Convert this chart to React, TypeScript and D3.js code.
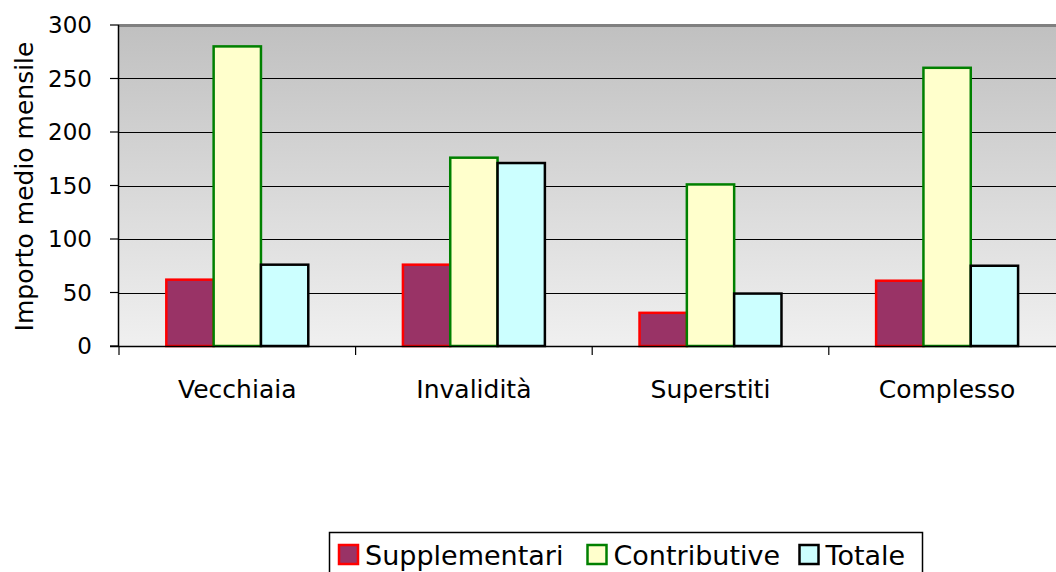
import React, { useEffect, useRef } from 'react';
import * as d3 from 'd3';

const categories = ['Vecchiaia', 'Invalidità', 'Superstiti', 'Complesso'];
const seriesNames = ['Supplementari', 'Contributive', 'Totale'];
const supplementari = [62, 76, 31, 61];
const contributive = [280, 176, 151, 260];
const totale = [76, 171, 49, 75];
const yTicks = [0, 50, 100, 150, 200, 250, 300];

const fills = ['#993366', '#ffffcc', '#ccffff'];
const strokes = ['#ff0000', '#008000', '#000000'];

const App: React.FC = () => {
    const svgRef = useRef<SVGSVGElement>(null);

    useEffect(() => {
        if (!svgRef.current) return;
        const svg = d3.select(svgRef.current);
        svg.selectAll('*').remove();

        const font = '"DejaVu Sans", Verdana, sans-serif';
        const margin = { top: 25, left: 119 };
        const bandW = 236.6;
        const plotW = bandW * categories.length;
        const plotH = 321;

        const x = d3.scaleBand<string>()
            .domain(categories)
            .range([0, plotW])
            .paddingInner(0)
            .paddingOuter(0);

        const xInner = d3.scaleBand<string>()
            .domain(seriesNames)
            .range([bandW / 5, bandW * 4 / 5]);

        const y = d3.scaleLinear().domain([0, 300]).range([plotH, 0]);

        // gradient background
        const grad = svg.append('defs')
            .append('linearGradient')
            .attr('id', 'bg')
            .attr('x1', '0%').attr('y1', '0%')
            .attr('x2', '0%').attr('y2', '100%');
        grad.append('stop').attr('offset', '0%').attr('stop-color', '#c0c0c0');
        grad.append('stop').attr('offset', '100%').attr('stop-color', '#f0f0f0');

        const g = svg.append('g')
            .attr('transform', `translate(${margin.left},${margin.top})`);

        g.append('rect')
            .attr('x', 0).attr('y', 0)
            .attr('width', plotW).attr('height', plotH)
            .attr('fill', 'url(#bg)');

        // grid lines
        g.selectAll('line.grid')
            .data(yTicks.filter(t => t > 0 && t < 300))
            .enter()
            .append('line')
            .attr('x1', 0).attr('x2', plotW)
            .attr('y1', d => Math.round(y(d)) + 0.5)
            .attr('y2', d => Math.round(y(d)) + 0.5)
            .attr('stroke', '#000')
            .attr('stroke-width', 1);

        // top border
        g.append('line')
            .attr('x1', 0).attr('x2', plotW)
            .attr('y1', 0.5).attr('y2', 0.5)
            .attr('stroke', '#808080')
            .attr('stroke-width', 3);

        // bars
        const values = [supplementari, contributive, totale];
        values.forEach((vals, si) => {
            g.selectAll(`rect.s${si}`)
                .data(vals)
                .enter()
                .append('rect')
                .attr('x', (_, i) => (x(categories[i]) as number) + (xInner(seriesNames[si]) as number))
                .attr('y', d => y(d))
                .attr('width', xInner.bandwidth())
                .attr('height', d => plotH - y(d))
                .attr('fill', fills[si])
                .attr('stroke', strokes[si])
                .attr('stroke-width', 2.5);
        });

        // y axis
        g.append('line')
            .attr('x1', -0.5).attr('x2', -0.5)
            .attr('y1', 0).attr('y2', plotH)
            .attr('stroke', '#000').attr('stroke-width', 1.5);
        yTicks.forEach(t => {
            g.append('line')
                .attr('x1', -9).attr('x2', 0)
                .attr('y1', y(t)).attr('y2', y(t))
                .attr('stroke', '#000').attr('stroke-width', 1.2);
            g.append('text')
                .attr('x', -27)
                .attr('y', y(t))
                .attr('dy', '0.36em')
                .attr('text-anchor', 'end')
                .attr('font-family', font)
                .attr('font-size', 23)
                .attr('fill', '#000')
                .text(String(t));
        });

        // x axis
        g.append('line')
            .attr('x1', -9).attr('x2', plotW)
            .attr('y1', plotH + 0.5).attr('y2', plotH + 0.5)
            .attr('stroke', '#000').attr('stroke-width', 1.5);
        categories.forEach(c => {
            const x0 = x(c) as number;
            g.append('line')
                .attr('x1', x0).attr('x2', x0)
                .attr('y1', plotH).attr('y2', plotH + 9)
                .attr('stroke', '#000').attr('stroke-width', 1.2);
            g.append('text')
                .attr('x', x0 + bandW / 2)
                .attr('y', plotH + 52)
                .attr('text-anchor', 'middle')
                .attr('font-family', font)
                .attr('font-size', 25)
                .attr('fill', '#000')
                .text(c);
        });

        // y axis title
        svg.append('text')
            .attr('transform', `translate(33,${margin.top + plotH / 2 + 1}) rotate(-90)`)
            .attr('text-anchor', 'middle')
            .attr('font-family', font)
            .attr('font-size', 25)
            .attr('fill', '#000')
            .text('Importo medio mensile');

        // legend
        const leg = svg.append('g').attr('transform', 'translate(329.5,532.5)');
        leg.append('rect')
            .attr('x', 0).attr('y', 0)
            .attr('width', 593).attr('height', 60)
            .attr('fill', '#fff')
            .attr('stroke', '#000')
            .attr('stroke-width', 1.5);
        const itemX = [9.5, 258, 470];
        seriesNames.forEach((name, i) => {
            leg.append('rect')
                .attr('x', itemX[i]).attr('y', 12.5)
                .attr('width', 19).attr('height', 19)
                .attr('fill', fills[i])
                .attr('stroke', strokes[i])
                .attr('stroke-width', 2.5);
            leg.append('text')
                .attr('x', itemX[i] + 26)
                .attr('y', 32)
                .attr('font-family', font)
                .attr('font-size', 27)
                .attr('fill', '#000')
                .text(name);
        });
    }, []);

    return (
        <div style={{ position: 'fixed', left: 0, top: 0, width: 1056, height: 572, background: '#fff' }}>
            <svg ref={svgRef} width={1056} height={572} style={{ display: 'block' }} />
        </div>
    );
};

export default App;
